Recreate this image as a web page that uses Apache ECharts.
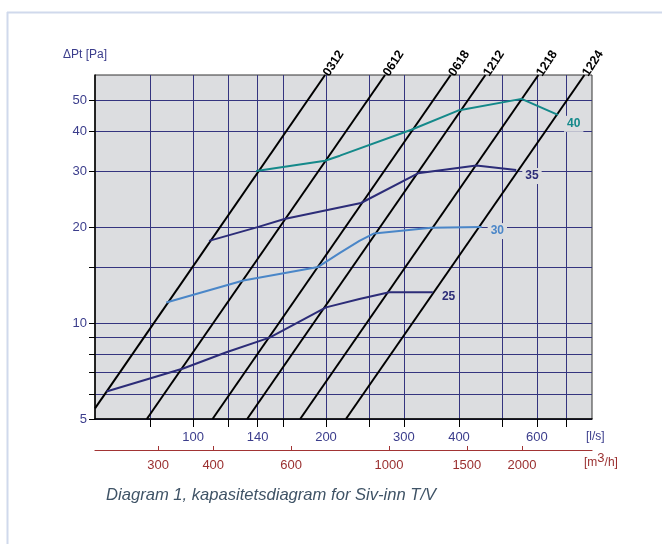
<!DOCTYPE html>
<html>
<head>
<meta charset="utf-8">
<script src="https://cdn.jsdelivr.net/npm/echarts@6/dist/echarts.min.js"></script>
<style>
  html, body { margin: 0; padding: 0; background: #fff; }
  #chart { width: 662px; height: 544px; }
</style>
</head>
<body>
<div id="chart"></div>
<script>
// duct sizes, each line read as two end points [l/s, Pa]
const ductNames = ['0312', '0612', '0618', '1212', '1218', '1224']
const ductStart = [[60, 5.4], [78.6, 5], [110.7, 5], [132.6, 5], [174.8, 5], [221.9, 5]]
const ductEnd = [[199, 60], [272, 60], [383, 60], [459, 60], [605, 60], [769, 60]]

// sound level curves (dB)
const soundNames = ['25', '30', '35', '40']
const soundColors = ['#2c2c78', '#4a86c8', '#2c2c78', '#14898a']
const soundFlow = [
  [63.7, 95, 119, 149, 200, 238, 278, 349],
  [87, 130, 192, 215, 238, 257, 346, 450],
  [108.7, 140, 161, 240, 323, 438, 539],
  [139, 199, 215, 312, 398, 554, 670]
]
const soundDp = [
  [6.1, 7.2, 8.1, 9.0, 11.2, 11.9, 12.5, 12.5],
  [11.6, 13.6, 15.0, 16.6, 18.1, 19.1, 19.9, 20.0],
  [18.1, 20, 21.2, 23.8, 29.5, 31.2, 30.2],
  [30, 32.3, 33.5, 40.4, 46.4, 50.5, 45]
]

// axis ticks
const flowTicks = [80, 100, 120, 140, 160, 200, 250, 300, 400, 500, 600, 700]
const flowLabels = [100, 140, 200, 300, 400, 600]
const m3hTicks = [300, 400, 600, 1000, 1500, 2000]
const dpTicks = [5, 6, 7, 8, 9, 10, 15, 20, 30, 40, 50]
const dpLabels = [5, 10, 20, 30, 40, 50]

const font = 'Liberation Sans, Arial, sans-serif'
const gridColor = '#34347f'
const plotBg = '#dcdde0'
const labelShift = [5, 4, 6, 9] // vertical nudge of the dB labels

const chart = echarts.init(document.getElementById('chart'))

const series = []
ductNames.forEach((name, i) => {
  series.push({
    type: 'line',
    name: name,
    data: [
      { value: ductStart[i] },
      {
        value: ductEnd[i],
        label: {
          show: true,
          formatter: name,
          position: 'right',
          distance: 1,
          rotate: 57,
          align: 'left',
          verticalAlign: 'middle',
          color: '#000',
          fontWeight: 'bold',
          fontSize: 12.5,
          fontFamily: font
        }
      }
    ],
    symbol: 'circle',
    symbolSize: 0.1,
    showSymbol: true,
    silent: true,
    lineStyle: { color: '#000', width: 2 },
    itemStyle: { color: '#000' },
    z: 3
  })
})

soundNames.forEach((name, i) => {
  const pts = soundFlow[i].map((q, j) => [q, soundDp[i][j]])
  const last = pts.length - 1
  series.push({
    type: 'line',
    name: name + ' dB',
    data: pts.map((p, j) => j === last ? {
      value: p,
      label: {
        show: true,
        formatter: name,
        position: 'right',
        distance: 6,
        offset: [0, labelShift[i]],
        color: soundColors[i],
        fontWeight: 'bold',
        fontSize: 12,
        fontFamily: font,
        backgroundColor: plotBg,
        padding: [2, 3]
      }
    } : { value: p }),
    symbol: 'circle',
    symbolSize: 0.1,
    showSymbol: true,
    silent: true,
    lineStyle: { color: soundColors[i], width: 2 },
    itemStyle: { color: soundColors[i] },
    z: 4
  })
})

// keeps the m3/h axis bound
series.push({ type: 'line', xAxisIndex: 1, data: [], silent: true })

const option = {
  animation: false,
  title: {
    text: 'Diagram 1, kapasitetsdiagram for Siv-inn T/V',
    left: 101,
    top: 482,
    textStyle: {
      fontFamily: font,
      fontStyle: 'italic',
      fontWeight: 'normal',
      fontSize: 16.6,
      color: '#3f5366'
    }
  },
  grid: {
    left: 95,
    top: 75,
    width: 497,
    height: 344,
    show: true,
    backgroundColor: plotBg,
    borderColor: '#333',
    borderWidth: 1
  },
  xAxis: [
    {
      type: 'log',
      min: 60,
      max: 800,
      position: 'bottom',
      axisLine: { lineStyle: { color: '#000', width: 1.5 } },
      axisTick: { customValues: flowTicks, length: 8, lineStyle: { color: '#000' } },
      axisLabel: {
        customValues: flowLabels,
        formatter: v => String(Math.round(v)),
        color: '#3b3d8c',
        fontSize: 13,
        fontFamily: font,
        margin: 12
      },
      splitLine: { show: true, lineStyle: { color: gridColor, width: 1 } },
      minorTick: { show: false },
      minorSplitLine: { show: false }
    },
    {
      type: 'log',
      min: 60 * 3.6,
      max: 800 * 3.6,
      position: 'bottom',
      offset: 31,
      axisLine: { lineStyle: { color: '#a23434', width: 1.2 } },
      axisTick: { customValues: m3hTicks, inside: true, length: 4, lineStyle: { color: '#a23434' } },
      axisLabel: {
        customValues: m3hTicks,
        formatter: v => String(Math.round(v)),
        color: '#9a2f2f',
        fontSize: 13,
        fontFamily: font,
        margin: 9
      },
      splitLine: { show: false }
    }
  ],
  yAxis: {
    type: 'log',
    min: 5,
    max: 60,
    axisLine: { lineStyle: { color: '#000', width: 1.5 } },
    axisTick: { customValues: dpTicks, length: 6, lineStyle: { color: '#000' } },
    axisLabel: {
      customValues: dpLabels,
      formatter: v => String(Math.round(v)),
      color: '#3b3d8c',
      fontSize: 13,
      fontFamily: font,
      margin: 8
    },
    splitLine: { show: true, lineStyle: { color: gridColor, width: 1 } }
  },
  graphic: [
    { type: 'line', shape: { x1: 7, y1: 12.5, x2: 662, y2: 12.5 }, style: { stroke: '#d0d9ec', lineWidth: 2 } },
    { type: 'line', shape: { x1: 7.5, y1: 12, x2: 7.5, y2: 544 }, style: { stroke: '#d0d9ec', lineWidth: 2 } },
    {
      type: 'text', left: 63, top: 49,
      style: { text: 'ΔPt [Pa]', fill: '#3b3d8c', font: '12px ' + font }
    },
    {
      type: 'text', left: 586, top: 431,
      style: { text: '[l/s]', fill: '#3b3d8c', font: '12px ' + font }
    },
    {
      type: 'text', left: 584, top: 452,
      style: {
        text: '{a|[m}{s|3}{a|/h]}',
        rich: {
          a: { fill: '#9a2f2f', font: '12px ' + font, padding: [8, 0, 0, 0] },
          s: { fill: '#9a2f2f', font: '13px ' + font, padding: [0, 0, 0, 0] }
        }
      }
    }
  ],
  series: series
}

option && chart.setOption(option)
</script>
</body>
</html>
